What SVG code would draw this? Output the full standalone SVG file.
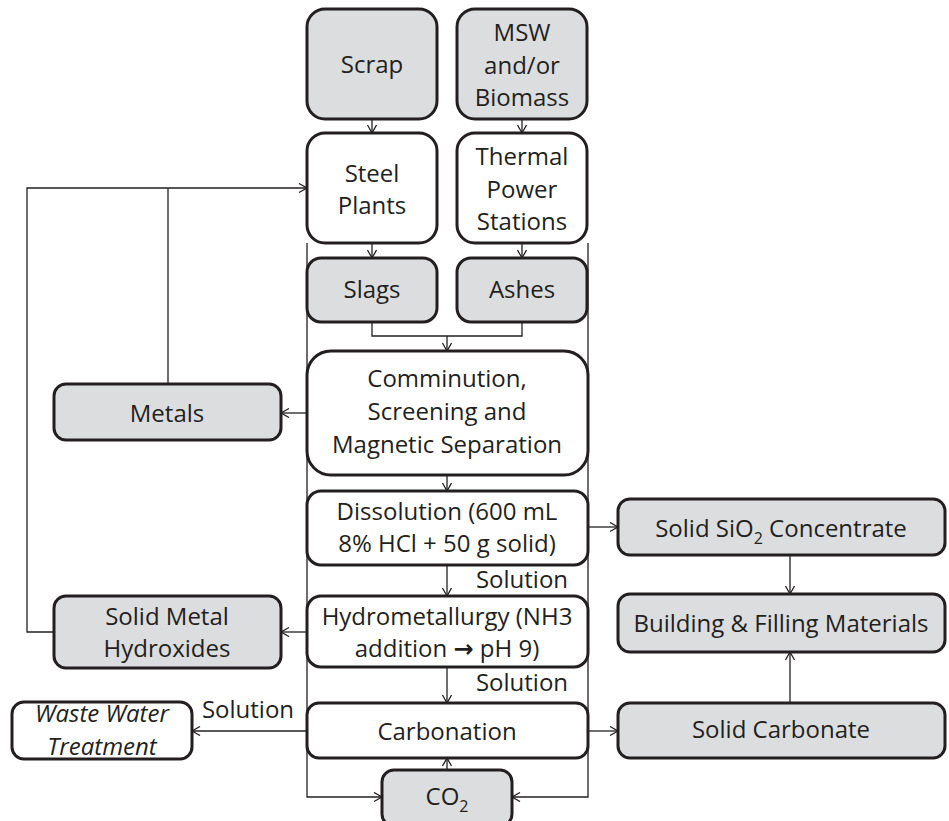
<svg xmlns="http://www.w3.org/2000/svg" width="949" height="821" viewBox="0 0 949 821">
<style>
.box{fill:#ffffff;stroke:#231f20;stroke-width:3}
.g{fill:#dcdddf}
.t{font-family:"Open Sans","Liberation Sans",sans-serif;font-size:24px;fill:#231f20;text-anchor:middle}
.c{fill:none;stroke:#231f20;stroke-width:1.3}
.a{marker-end:url(#ah)}
</style>
<defs>
<marker id="ah" markerUnits="userSpaceOnUse" markerWidth="12" markerHeight="12" refX="9" refY="5" orient="auto">
<path d="M1,0.5 L9,5 L1,9.5" fill="none" stroke="#231f20" stroke-width="1.3"/>
</marker>
</defs>
<rect width="949" height="821" fill="#ffffff"/>
<g id="connectors">
<line class="c a" x1="372" y1="119" x2="372" y2="133"/>
<line class="c a" x1="522" y1="119" x2="522" y2="133"/>
<line class="c a" x1="372" y1="243" x2="372" y2="258"/>
<line class="c a" x1="522" y1="243" x2="522" y2="258"/>
<polyline class="c" points="372,322 372,336 522,336 522,322"/>
<line class="c a" x1="447" y1="336" x2="447" y2="351"/>
<line class="c a" x1="447" y1="475" x2="447" y2="491"/>
<line class="c a" x1="447" y1="565" x2="447" y2="596"/>
<line class="c a" x1="447" y1="667" x2="447" y2="703"/>
<line class="c a" x1="447" y1="770" x2="447" y2="758"/>
<line class="c a" x1="307" y1="413" x2="281" y2="413"/>
<line class="c a" x1="307" y1="632" x2="281" y2="632"/>
<line class="c a" x1="307" y1="731" x2="192" y2="731"/>
<polyline class="c" points="168,384 168,188"/>
<polyline class="c a" points="54,632 27,632 27,188 307,188"/>
<line class="c a" x1="588" y1="527" x2="618" y2="527"/>
<line class="c a" x1="588" y1="731" x2="618" y2="731"/>
<line class="c a" x1="790" y1="555" x2="790" y2="594"/>
<line class="c a" x1="790" y1="703" x2="790" y2="652"/>
<polyline class="c a" points="307,243 307,797 382,797"/>
<polyline class="c a" points="588,243 588,797 512,797"/>
<text class="t" x="522" y="588">Solution</text>
<text class="t" x="522" y="691">Solution</text>
<text class="t" x="248" y="718">Solution</text>
</g>
<g id="scrap"><rect class="box g" x="307" y="9" width="130" height="110" rx="18"/><text class="t" x="372" y="73">Scrap</text></g>
<g id="msw"><rect class="box g" x="457" y="9" width="130" height="110" rx="18"/><text class="t" x="522" y="41">MSW</text><text class="t" x="522" y="74">and/or</text><text class="t" x="522" y="106">Biomass</text></g>
<g id="steel"><rect class="box" x="307" y="133" width="130" height="110" rx="18"/><text class="t" x="372" y="182">Steel</text><text class="t" x="372" y="214">Plants</text></g>
<g id="thermal"><rect class="box" x="457" y="133" width="130" height="110" rx="18"/><text class="t" x="522" y="165">Thermal</text><text class="t" x="522" y="198">Power</text><text class="t" x="522" y="230">Stations</text></g>
<g id="slags"><rect class="box g" x="307" y="258" width="130" height="64" rx="14"/><text class="t" x="372" y="298">Slags</text></g>
<g id="ashes"><rect class="box g" x="457" y="258" width="130" height="64" rx="14"/><text class="t" x="522" y="298">Ashes</text></g>
<g id="comminution"><rect class="box" x="307" y="351" width="281" height="124" rx="24"/><text class="t" x="447" y="387">Comminution,</text><text class="t" x="447" y="420">Screening and</text><text class="t" x="447" y="453">Magnetic Separation</text></g>
<g id="dissolution"><rect class="box" x="307" y="491" width="281" height="74" rx="14"/><text class="t" x="447" y="520">Dissolution (600 mL</text><text class="t" x="447" y="552">8% HCl + 50 g solid)</text></g>
<g id="hydrometallurgy"><rect class="box" x="307" y="596" width="281" height="71" rx="14"/><text class="t" x="447" y="625">Hydrometallurgy (NH3</text><text class="t" x="447" y="657">addition <tspan font-family="DejaVu Sans" font-weight="bold">→</tspan> pH 9)</text></g>
<g id="carbonation"><rect class="box" x="307" y="703" width="281" height="55" rx="12"/><text class="t" x="447" y="740">Carbonation</text></g>
<g id="co2"><rect class="box g" x="382" y="770" width="130" height="56" rx="12"/><text class="t" x="447" y="805">CO<tspan font-size="16" dy="7">2</tspan></text></g>
<g id="metals"><rect class="box g" x="54" y="384" width="227" height="56" rx="12"/><text class="t" x="167" y="422">Metals</text></g>
<g id="hydroxides"><rect class="box g" x="54" y="596" width="227" height="72" rx="12"/><text class="t" x="167" y="625">Solid Metal</text><text class="t" x="167" y="657">Hydroxides</text></g>
<g id="wastewater"><rect class="box" x="12" y="702" width="180" height="57" rx="12"/><text class="t" x="102" y="722" font-style="italic">Waste Water</text><text class="t" x="102" y="755" font-style="italic">Treatment</text></g>
<g id="sio2"><rect class="box g" x="618" y="499" width="327" height="56" rx="12"/><text class="t" x="781" y="537">Solid SiO<tspan font-size="16" dy="7">2</tspan><tspan dy="-7"> Concentrate</tspan></text></g>
<g id="building"><rect class="box g" x="618" y="594" width="327" height="58" rx="12"/><text class="t" x="781" y="632">Building &amp; Filling Materials</text></g>
<g id="carbonate"><rect class="box g" x="618" y="703" width="327" height="55" rx="12"/><text class="t" x="781" y="738">Solid Carbonate</text></g>
</svg>
